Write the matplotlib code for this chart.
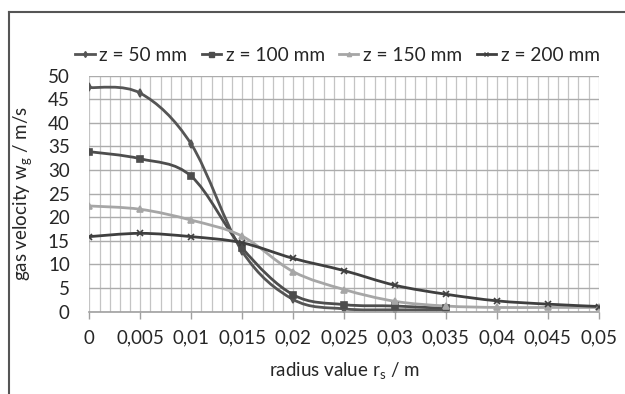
import matplotlib
matplotlib.use("Agg")
import matplotlib.pyplot as plt
from matplotlib.lines import Line2D
from matplotlib.path import Path
from matplotlib.patches import PathPatch
import numpy as np

plt.rcParams['font.family'] = ['Lato', 'DejaVu Sans']

r50 = [0, 0.005, 0.01, 0.015, 0.02, 0.025, 0.03, 0.035]
v50 = [47.5, 46.3, 35.5, 12.8, 2.6, 0.6, 0.4, 0.4]
r100 = [0, 0.005, 0.01, 0.015, 0.02, 0.025, 0.03, 0.035]
v100 = [33.9, 32.4, 28.7, 13.5, 3.6, 1.5, 1.2, 0.7]
r150 = [0, 0.005, 0.01, 0.015, 0.02, 0.025, 0.03, 0.035, 0.04, 0.045, 0.05]
v150 = [22.4, 21.7, 19.4, 16.0, 8.5, 4.7, 2.2, 1.2, 0.9, 0.9, 0.9]
r200 = [0, 0.005, 0.01, 0.015, 0.02, 0.025, 0.03, 0.035, 0.04, 0.045, 0.05]
v200 = [15.9, 16.6, 15.9, 14.6, 11.3, 8.7, 5.6, 3.7, 2.3, 1.6, 1.1]

labels = ["z = 50 mm", "z = 100 mm", "z = 150 mm", "z = 200 mm"]
xticks = [0, 0.005, 0.01, 0.015, 0.02, 0.025, 0.03, 0.035, 0.04, 0.045, 0.05]
xticklabels = ["0", "0,005", "0,01", "0,015", "0,02", "0,025", "0,03", "0,035", "0,04", "0,045", "0,05"]
yticks = [0, 5, 10, 15, 20, 25, 30, 35, 40, 45, 50]

FS = 13.5
TXT = '#262626'

fig = plt.figure(figsize=(6.25, 3.94), dpi=100)
ax = fig.add_axes([0.1429, 0.2089, 0.958 - 0.1429, 0.8079 - 0.2089])

ax.set_xlim(0, 0.05)
ax.set_ylim(0, 50)

# grid
ax.set_xticks(np.arange(0, 0.0505, 0.001), minor=True)
ax.grid(which='minor', axis='x', color='#c4c4c4', linewidth=0.9)
ax.grid(which='major', axis='y', color='#acacac', linewidth=1.0)
ax.grid(which='major', axis='x', color='#c4c4c4', linewidth=0.9)
ax.set_axisbelow(True)
ax.tick_params(which='minor', length=0)

ax.set_xticks(xticks)
ax.set_xticklabels(xticklabels)
ax.set_yticks(yticks)
ax.tick_params(axis='x', which='major', length=5, width=1, color='#a0a0a0',
               direction='out', pad=8, labelsize=FS, labelcolor=TXT)
ax.tick_params(axis='y', which='major', length=0, pad=14, labelsize=FS,
               labelcolor=TXT)

for s in ['top', 'right', 'left']:
    ax.spines[s].set_visible(False)
ax.spines['bottom'].set_color('#a0a0a0')
ax.spines['bottom'].set_linewidth(1.2)


def smooth_path(x, y):
    # Catmull-Rom style Bezier through the data points (Excel "smoothed line")
    x = np.asarray(x, float)
    y = np.asarray(y, float)
    n = len(x)
    verts = [(x[0], y[0])]
    codes = [Path.MOVETO]
    t = 1.0 / 6.0
    for i in range(n - 1):
        i0 = max(i - 1, 0)
        i3 = min(i + 2, n - 1)
        c1 = (x[i] + (x[i + 1] - x[i0]) * t, y[i] + (y[i + 1] - y[i0]) * t)
        c2 = (x[i + 1] - (x[i3] - x[i]) * t, y[i + 1] - (y[i3] - y[i]) * t)
        verts += [c1, c2, (x[i + 1], y[i + 1])]
        codes += [Path.CURVE4] * 3
    return Path(verts, codes)


series = [
    (r50, v50, '#555555', 'd', 3.8, labels[0]),
    (r100, v100, '#4d4d4d', 's', 4.5, labels[1]),
    (r150, v150, '#a6a6a6', '^', 3.8, labels[2]),
    (r200, v200, '#3f3f3f', 'x', 4.0, labels[3]),
]
handles = []
for xs, ys, col, mk, ms, lab in series:
    ax.add_patch(PathPatch(smooth_path(xs, ys), facecolor='none', edgecolor=col,
                           lw=2.0, capstyle='round', joinstyle='round'))
    ax.plot(xs, ys, linestyle='none', color=col, marker=mk, ms=ms, mew=1.2)
    handles.append(Line2D([], [], color=col, lw=2.0, marker=mk, ms=ms * 0.8, mew=1.0, label=lab))

ax.set_xlabel("radius value r$_\\mathregular{s}$ / m", fontsize=FS, color=TXT, labelpad=10)
ax.set_ylabel("gas velocity w$_\\mathregular{g}$ / m/s", fontsize=FS, color=TXT)
ax.yaxis.set_label_coords(-0.106, 0.5)

fig.legend(handles=handles, loc='center', bbox_to_anchor=(0.54, 0.8604), ncol=4,
           frameon=False, fontsize=13.8, handlelength=1.0, handletextpad=0.25,
           columnspacing=0.75, labelcolor=TXT)

# outer frame
fig.add_artist(Line2D([9/625, 9/625], [0, 1 - 12/394], transform=fig.transFigure,
                      color='#555555', lw=1.5))
fig.add_artist(Line2D([9/625, 1], [1 - 12/394, 1 - 12/394], transform=fig.transFigure,
                      color='#555555', lw=1.5))

fig.savefig("out.png", dpi=100, facecolor='white')
